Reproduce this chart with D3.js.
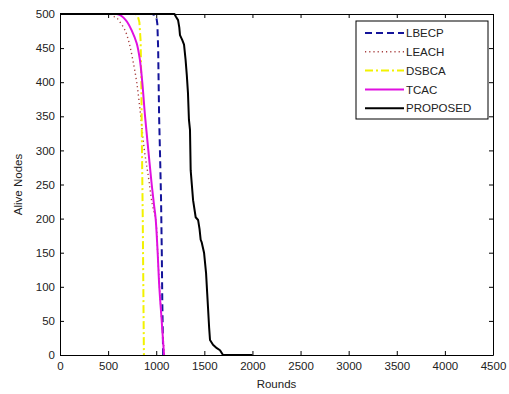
<!DOCTYPE html>
<html>
<head>
<meta charset="utf-8">
<script src="https://cdn.jsdelivr.net/npm/d3@7"></script>
<style>
  html, body { margin: 0; padding: 0; background: #fff; overflow: hidden; }
  svg { display: block; }
  text { font-family: "Liberation Sans", Arial, sans-serif; }
</style>
</head>
<body>
<svg width="509" height="394"></svg>
<script>
// series: [round, alive nodes]
const lbecp = [[0,500],[960,500],[1000,497],[1012,485],[1020,450],[1030,350],[1042,280],[1050,230],[1058,150],[1063,80],[1072,0]];
const leach = [[0,500],[520,500],[551,497],[590,494],[624,488],[676,476],[720,457],[756,433],[797,400],[839,350],[877,300],[920,260],[960,220],[994,200],[1015,150],[1034,100],[1058,50],[1085,0]];
const dsbca = [[0,500],[790,500],[810,496],[825,488],[838,460],[845,400],[852,300],[860,200],[866,100],[872,0]];
const tcac = [[0,500],[590,500],[630,498],[665,494],[700,488],[745,476],[797,457],[830,433],[855,400],[884,350],[918,300],[953,250],[977,220],[994,200],[1015,150],[1032,100],[1057,50],[1081,0]];
const proposed = [[0,500],[1190,500],[1205,496],[1227,491],[1240,480],[1247,469],[1270,462],[1289,455],[1305,433],[1318,410],[1330,384],[1340,345],[1351,330],[1358,271],[1370,250],[1383,227],[1410,202],[1435,198],[1450,185],[1462,169],[1473,165],[1497,150],[1518,120],[1530,90],[1538,70],[1550,40],[1559,22],[1590,15],[1630,10],[1663,7],[1694,0],[2000,0]];

const seriesNames = ["LBECP", "LEACH", "DSBCA", "TCAC", "PROPOSED"];
const seriesData = [lbecp, leach, dsbca, tcac, proposed];
const xTicks = [0, 500, 1000, 1500, 2000, 2500, 3000, 3500, 4000, 4500];
const yTicks = [0, 50, 100, 150, 200, 250, 300, 350, 400, 450, 500];

const styles = {
  LBECP:    { color: "#14149a", width: 2,   dash: "7,4",     smooth: false },
  LEACH:    { color: "#a84040", width: 1.4, dash: "1.2,3",   smooth: true },
  DSBCA:    { color: "#f2f200", width: 2,   dash: "8,3,2,3", smooth: false },
  TCAC:     { color: "#e010e0", width: 2,   dash: null,      smooth: true },
  PROPOSED: { color: "#000000", width: 2,   dash: null,      smooth: false }
};

const svg = d3.select("svg");
const margin = { top: 14, right: 16, bottom: 39, left: 60 };
const width = 509, height = 394;
const innerWidth = width - margin.left - margin.right;
const innerHeight = height - margin.top - margin.bottom;

const x = d3.scaleLinear().domain([0, 4500]).range([0, innerWidth]);
const y = d3.scaleLinear().domain([0, 500]).range([innerHeight, 0]);

const g = svg.append("g")
  .attr("transform", `translate(${margin.left},${margin.top})`);

// clip so lines sit inside the box
svg.append("defs").append("clipPath").attr("id", "plotclip")
  .append("rect").attr("x", -1).attr("y", -1)
  .attr("width", innerWidth + 2).attr("height", innerHeight + 2);

const line = d3.line().x(d => x(d[0])).y(d => y(d[1]));
const smoothLine = d3.line().x(d => x(d[0])).y(d => y(d[1])).curve(d3.curveCatmullRom);

const lines = g.append("g").attr("clip-path", "url(#plotclip)");
seriesNames.forEach((name, i) => {
  const s = styles[name];
  lines.append("path")
    .datum(seriesData[i])
    .attr("d", s.smooth ? smoothLine : line)
    .attr("fill", "none")
    .attr("stroke", s.color)
    .attr("stroke-width", s.width)
    .attr("stroke-linejoin", "round")
    .attr("stroke-dasharray", s.dash);
});

// axes, matlab-like ticks pointing inward on all four sides
const tickLen = 4;
const fmt = d3.format("d");
const axB = g.append("g").attr("transform", `translate(0,${innerHeight})`)
  .call(d3.axisBottom(x).tickValues(xTicks).tickFormat(fmt).tickSizeInner(-tickLen).tickSizeOuter(0).tickPadding(7));
const axL = g.append("g")
  .call(d3.axisLeft(y).tickValues(yTicks).tickFormat(fmt).tickSizeInner(-tickLen).tickSizeOuter(0).tickPadding(5));
const axT = g.append("g")
  .call(d3.axisTop(x).tickValues(xTicks).tickSizeInner(-tickLen).tickSizeOuter(0));
const axR = g.append("g").attr("transform", `translate(${innerWidth},0)`)
  .call(d3.axisRight(y).tickValues(yTicks).tickSizeInner(-tickLen).tickSizeOuter(0));
axT.selectAll("text").remove();
axR.selectAll("text").remove();

[axB, axL, axT, axR].forEach(a => {
  a.select(".domain").attr("stroke", "#000").attr("stroke-width", 1);
  a.selectAll(".tick line").attr("stroke", "#000");
  a.selectAll("text").attr("font-size", "11.5px").attr("fill", "#222")
    .attr("font-family", "Liberation Sans, Arial, sans-serif");
});

// axis titles
g.append("text")
  .attr("x", innerWidth / 2).attr("y", innerHeight + 33)
  .attr("text-anchor", "middle").attr("font-size", "11.5px").attr("fill", "#222")
  .text("Rounds");
g.append("text")
  .attr("transform", `translate(${-38},${innerHeight / 2}) rotate(-90)`)
  .attr("text-anchor", "middle").attr("font-size", "11.5px").attr("fill", "#222")
  .text("Alive Nodes");

// legend
const legend = g.append("g")
  .attr("transform", `translate(${356 - margin.left},${21 - margin.top})`);
legend.append("rect")
  .attr("width", 132).attr("height", 98)
  .attr("fill", "#fff").attr("stroke", "#000").attr("stroke-width", 1);
seriesNames.forEach((name, i) => {
  const s = styles[name];
  const row = legend.append("g").attr("transform", `translate(0,${12 + i * 18.8})`);
  row.append("line")
    .attr("x1", 9).attr("x2", 48).attr("y1", 0).attr("y2", 0)
    .attr("stroke", s.color).attr("stroke-width", s.width)
    .attr("stroke-dasharray", s.dash);
  row.append("text")
    .attr("x", 50).attr("y", 0).attr("dy", "0.36em")
    .attr("font-size", "11.5px").attr("fill", "#222")
    .text(name);
});
</script>
</body>
</html>
